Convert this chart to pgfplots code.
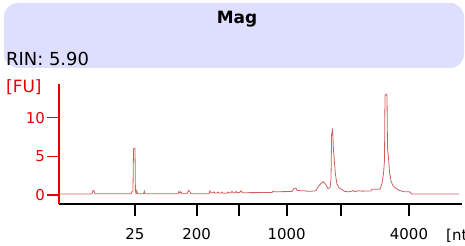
\documentclass[border=0pt]{standalone}
\usepackage{pgfplots}
\pgfplotsset{compat=1.18}
\usepackage{fontspec}
\setmainfont{DejaVu Sans}
\definecolor{boxbg}{RGB}{222,222,255}
\definecolor{trace}{RGB}{210,95,95}
\definecolor{fured}{RGB}{230,0,0}
\begin{document}
\begin{tikzpicture}
\useasboundingbox (0,0) rectangle (465bp,246bp);
\clip (0,0) rectangle (465bp,246bp);
\fill[boxbg, rounded corners=14bp] (4bp,178bp) rectangle (464bp,243bp);
\node[font=\fontsize{17}{20}\selectfont\bfseries] at (237bp,227bp) {Mag};
\node[anchor=base west, font=\fontsize{18}{21}\selectfont, inner sep=0pt] at (6bp,180bp) {RIN: 5.90};
\node[anchor=base west, text=fured, font=\fontsize{17}{20}\selectfont, inner sep=0pt] at (6bp,153bp) {[FU]};
\node[anchor=base west, font=\fontsize{15}{18}\selectfont, inner sep=0pt] at (446bp,6bp) {[nt]};
\begin{axis}[
  at={(59bp,42bp)}, anchor=south west,
  scale only axis, width=403bp, height=120bp,
  xmin=59, xmax=462, ymin=-1.164, ymax=14.36,
  axis x line*=bottom, axis y line*=left,
  x axis line style={black, line width=2bp, -},
  y axis line style={fured, line width=1.5bp, -},
  xtick={135,196.7,239,286.7,341,409},
  xticklabels={25,200,,1000,,4000},
  ytick={0,5,10},
  tick align=outside,
  major tick length=12bp,
  x tick style={black, line width=2bp},
  y tick style={fured, line width=1.5bp},
  xticklabel style={font=\fontsize{15}{18}\selectfont, text=black, inner sep=1bp, yshift=-11bp},
  yticklabel style={font=\fontsize{15}{18}\selectfont, text=fured, inner sep=2bp},
  /pgf/number format/assume math mode=true,
]
\addplot[trace, line width=0.8bp] coordinates {
(59,0.13) (92,0.13) (93,0.6) (94,0.55) (95,0.15)
(131,0.15) (132,0.4) (133,0.6) (133.5,5.9) (134,6.05) (135,6.05) (135.4,0.6) (136,0.2) (136.7,0.55) (137.5,0.15)
(143.5,0.15) (144.3,0.5) (145,0.15)
(178,0.15) (178.8,0.45) (179.8,0.25) (180.8,0.45) (181.8,0.15)
(187,0.15) (188,0.45) (188.8,0.6) (190,0.4) (191,0.15)
(209,0.15) (210,0.55) (211,0.3) (213,0.3) (214,0.4) (215,0.25) (217,0.25) (218,0.4) (219,0.25)
(221,0.25) (222,0.38) (223,0.22) (227,0.25) (228,0.38) (229,0.25) (231,0.3) (232,0.48) (233,0.3)
(235,0.3) (236,0.45) (237,0.3) (240,0.35) (241,0.55) (242.5,0.3)
(272,0.32) (273,0.5) (274,0.42) (292,0.45) (294,0.85) (296,0.9) (297,0.6)
(300,0.56) (305,0.55) (307,0.48) (312,0.5) (316,0.55) (318,1.05) (321,1.5) (323.3,1.72) (326,1.3) (328,0.85)
(330,0.95) (331,2.0) (331.6,7.8) (332.6,8.6) (333.4,6.0) (334.4,4.3) (335.5,2.6) (337,1.4) (339,0.95)
(342,0.7) (345,0.45) (349,0.42) (352,0.5) (353,0.58) (355,0.42) (358,0.55) (362,0.5)
(371,0.52) (372,0.75) (380,0.75) (382,1.5) (383.5,2.8) (384.5,4.5) (385,12.9) (386.2,13.05) (387,12.8)
(387.5,6.0) (388.5,4.8) (389.5,3.0) (391,1.8) (393,1.2) (396,0.85) (399,0.6) (404,0.43) (410,0.4)
(411.5,0.13) (459,0.13)
};
\end{axis}
\end{tikzpicture}
\end{document}
